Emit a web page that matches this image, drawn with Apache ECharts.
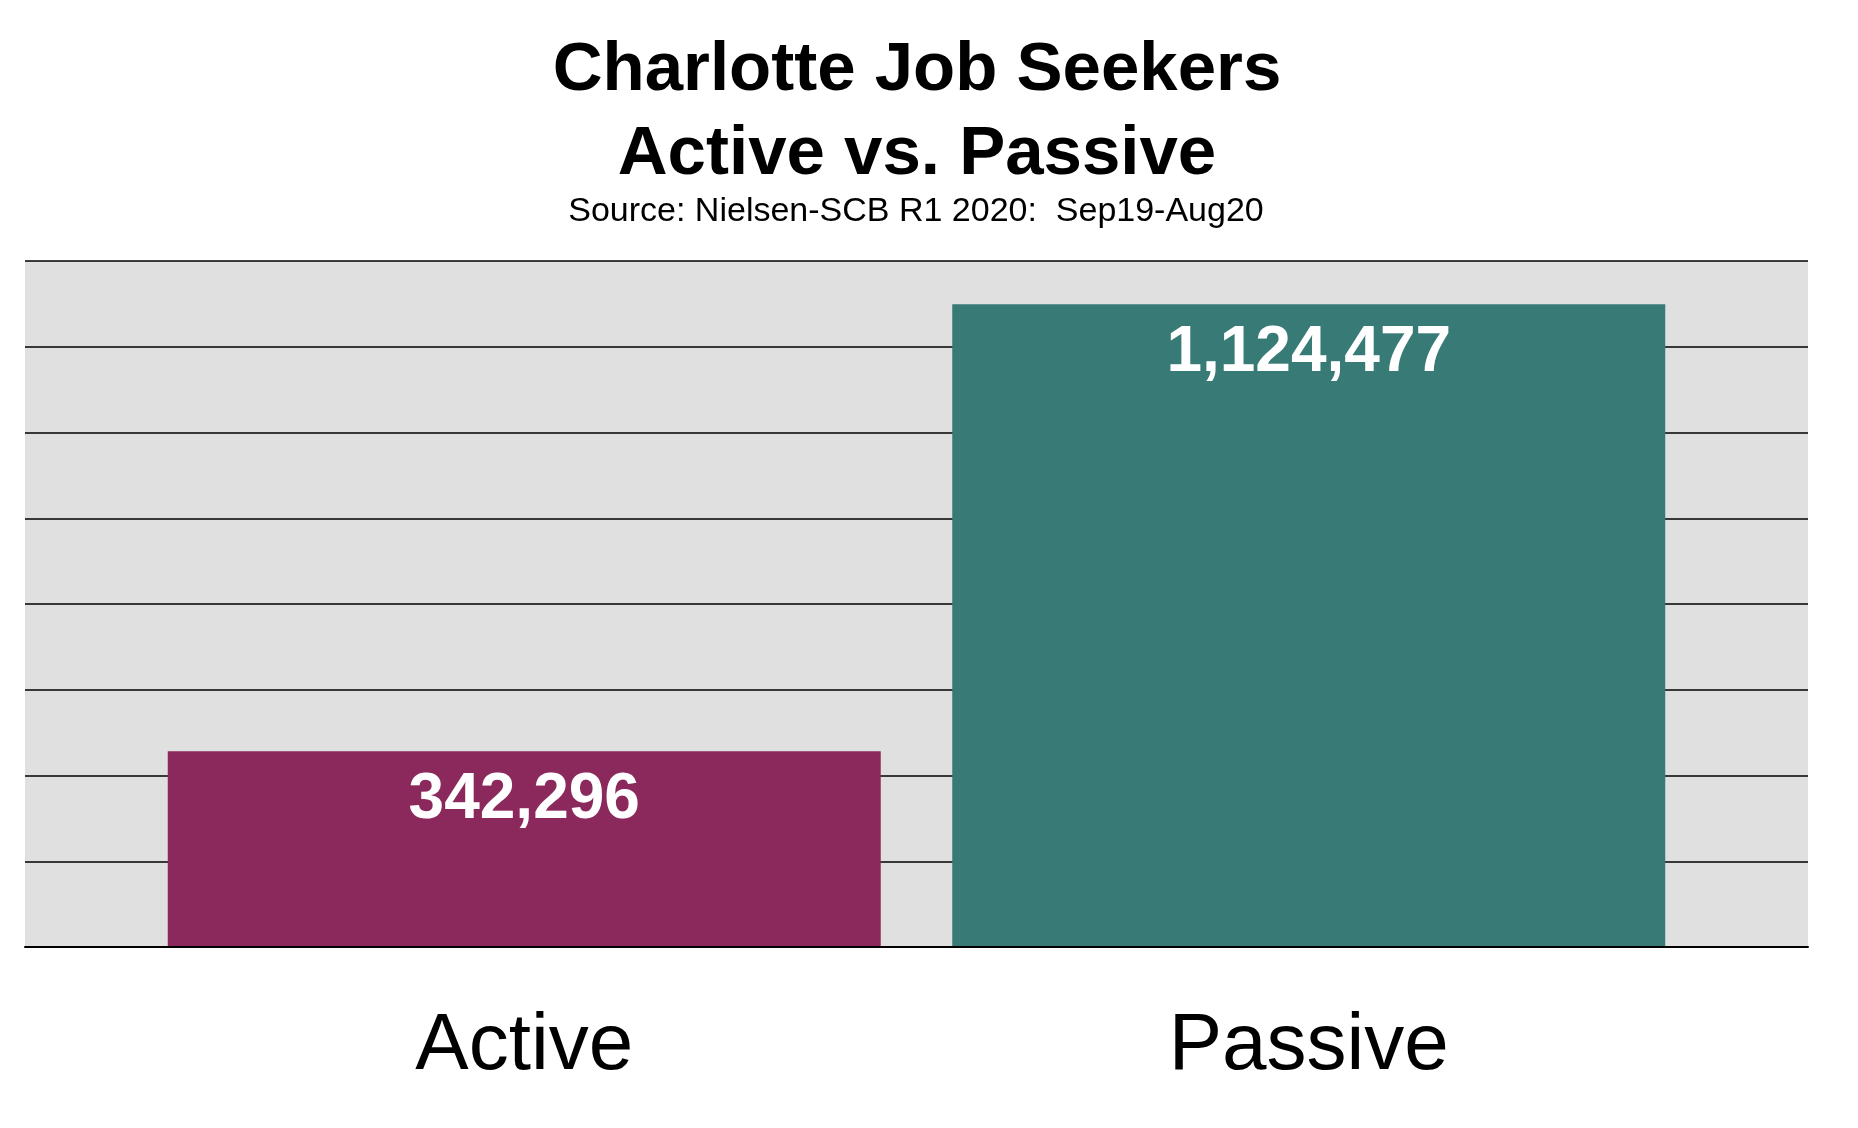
<!DOCTYPE html>
<html lang="en">
<head>
<meta charset="UTF-8" />
<title>Charlotte Job Seekers</title>
<script src="https://cdn.jsdelivr.net/npm/echarts@6/dist/echarts.min.js"></script>
<style>
  html, body { margin: 0; padding: 0; background: #fff; }
  #main { width: 1858px; height: 1128px; }
</style>
</head>
<body>
<div id="main"></div>
<script type="text/javascript">
// data
var categories = ['Active', 'Passive'];
var seekers = [342296, 1124477];
var barColors = ['#8B295C', '#387A75'];
var axisMax = 1200000;
var axisStep = 150000;

var font = '"Liberation Sans", Arial, Helvetica, sans-serif';

var barData = seekers.map(function (v, i) {
    return { value: v, itemStyle: { color: barColors[i] } };
});

var myChart = echarts.init(document.getElementById('main'));

var option = {
    animation: false,
    title: [
        {
            text: 'Charlotte Job Seekers\nActive vs. Passive',
            left: 912,
            top: 24,
            textAlign: 'center',
            textStyle: {
                fontFamily: font,
                fontSize: 69,
                fontWeight: 'bold',
                lineHeight: 84,
                color: '#000'
            }
        },
        {
            text: 'Source: Nielsen-SCB R1 2020:  Sep19-Aug20',
            left: 911,
            top: 190,
            textAlign: 'center',
            textStyle: {
                fontFamily: font,
                fontSize: 34,
                fontWeight: 'normal',
                color: '#000'
            }
        }
    ],
    grid: [
        // background plot area with the gridlines
        { left: 25, right: 50, top: 261, bottom: 181, show: true, backgroundColor: '#E0E0E0', borderWidth: 0 },
        // bars, centred a bit inside the plot area
        { left: 132, right: 157, top: 261, bottom: 181 }
    ],
    xAxis: [
        {
            gridIndex: 0,
            type: 'category',
            data: categories,
            z: 5,
            axisLine: { show: true, lineStyle: { color: '#000', width: 2 } },
            axisTick: { show: false },
            axisLabel: { show: false }
        },
        {
            gridIndex: 1,
            type: 'category',
            data: categories,
            axisLine: { show: false },
            axisTick: { show: false },
            axisLabel: {
                margin: 60,
                fontFamily: font,
                fontSize: 80,
                color: '#000'
            }
        }
    ],
    yAxis: [
        {
            gridIndex: 0,
            type: 'value',
            min: 0,
            max: axisMax,
            interval: axisStep,
            axisLine: { show: false },
            axisTick: { show: false },
            axisLabel: { show: false },
            splitLine: { show: true, lineStyle: { color: '#000', width: 1.5 } }
        },
        {
            gridIndex: 1,
            type: 'value',
            min: 0,
            max: axisMax,
            interval: axisStep,
            show: false,
            splitLine: { show: false }
        }
    ],
    series: [
        {
            name: 'Job Seekers',
            type: 'bar',
            xAxisIndex: 1,
            yAxisIndex: 1,
            barWidth: 713,
            data: barData,
            label: {
                show: true,
                position: 'insideTop',
                distance: 17,
                fontFamily: font,
                fontSize: 64,
                fontWeight: 'bold',
                color: '#fff',
                formatter: function (p) {
                    return p.value.toLocaleString('en-US');
                }
            }
        }
    ]
};

myChart.setOption(option);
</script>
</body>
</html>
